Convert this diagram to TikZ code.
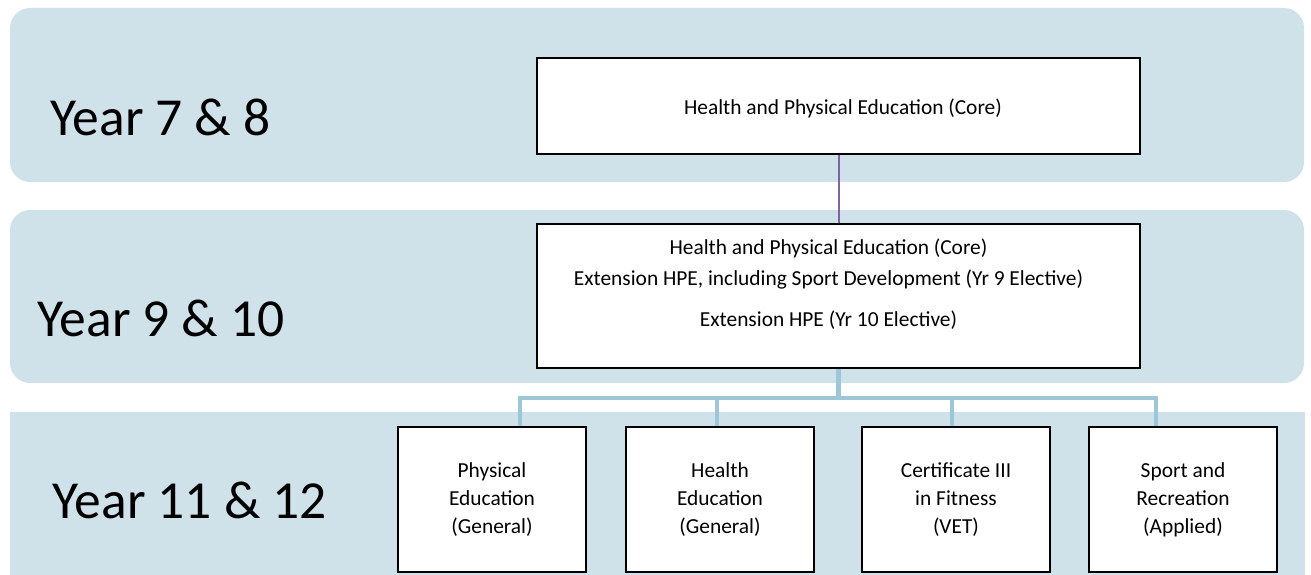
\documentclass[tikz,border=0pt]{standalone}
\usepackage{fontspec}
\setmainfont{Carlito}
\usetikzlibrary{calc}
\definecolor{bandblue}{RGB}{208,226,233}
\definecolor{linkblue}{RGB}{155,199,214}
\definecolor{linkpurple}{RGB}{128,100,162}
\tikzset{
	band/.style={fill=bandblue, draw=none, rounded corners=20pt},
	yearlabel/.style={font=\fontsize{53.5}{60}\selectfont, anchor=west},
	subject/.style={draw=black, line width=1.6pt, fill=white, align=center, font=\fontsize{21.4}{28}\selectfont},
	sublabel/.style={font=\fontsize{21.4}{28}\selectfont}
}

\begin{document}
\begin{tikzpicture}[x=1pt, y=-1pt]
		%%%%% START %%%%%
		\useasboundingbox (0, 0) rectangle (1311, 575);
		
		% year bands
		\fill[band] (10, 8) rectangle (1304, 182);
		\fill[band] (10, 210) rectangle (1304, 383);
		\fill[bandblue] (10, 412) rectangle (1305, 575);
		
		\node[yearlabel] (y78) at (47, 117) {Year 7 \& 8};
		\node[yearlabel] (y910) at (34, 318) {Year 9 \& 10};
		\node[yearlabel] (y1112) at (49, 500) {Year 11 \& 12};
		
		% links
		\coordinate (bus) at (838.5, 398);
		\coordinate (extBottom) at (838.5, 368);
		\coordinate (peTop) at (520, 427);
		\coordinate (heTop) at (717, 427);
		\coordinate (certTop) at (952, 427);
		\coordinate (sportTop) at (1156, 427);
		\draw[line width=4.5pt, color=linkblue] (extBottom) -- (bus);
		\draw[line width=4.5pt, color=linkblue] (peTop) |- (bus) -| (sportTop);
		\draw[line width=4.5pt, color=linkblue] (heTop) -- (heTop |- bus);
		\draw[line width=4.5pt, color=linkblue] (certTop) -- (certTop |- bus);
		
		% courses
		\node[subject, minimum width=603pt, minimum height=96pt] (core) at (838.5, 106) {};
		\node[sublabel] (coreText) at (843, 108) {Health and Physical Education (Core)};
		\node[subject, minimum width=603pt, minimum height=144pt] (ext) at (838.5, 296) {};
		\node[sublabel] (extA) at (828.5, 248) {Health and Physical Education (Core)};
		\node[sublabel] (extB) at (828.5, 280) {Extension HPE, including Sport Development (Yr 9 Elective)};
		\node[sublabel] (extC) at (828.5, 320) {Extension HPE (Yr 10 Elective)};
		
		\node[subject, minimum width=188pt, minimum height=145pt] (pe) at (492, 499.5) {Physical\\Education\\(General)};
		\node[subject, minimum width=188pt, minimum height=145pt] (he) at (720, 499.5) {Health\\Education\\(General)};
		\node[subject, minimum width=188pt, minimum height=145pt] (cert) at (956, 499.5) {Certificate III\\in Fitness\\(VET)};
		\node[subject, minimum width=188pt, minimum height=145pt] (sport) at (1183, 499.5) {Sport and\\Recreation\\(Applied)};
		
		\draw[line width=2pt, color=linkpurple] (core.south) -- (ext.north);
		%%%%% END %%%%%
	\end{tikzpicture}
\end{document}
